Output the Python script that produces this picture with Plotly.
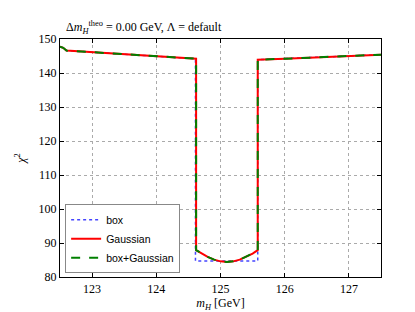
import plotly.graph_objects as go

# Data
x_box = [122.5, 122.55, 122.6, 123.0, 123.5, 124.0, 124.3, 124.61, 124.61, 124.9, 125.1, 125.3, 125.58, 125.58, 126.0, 126.5, 127.0, 127.5]
y_box = [147.7, 147.4, 146.6, 146.1, 145.5, 144.9, 144.6, 144.2, 84.7, 84.7, 84.6, 84.7, 84.7, 143.9, 144.2, 144.6, 145.0, 145.4]

x_gauss = [122.5, 122.55, 122.6, 123.0, 123.5, 124.0, 124.3, 124.62, 124.62, 124.7, 124.8, 124.9, 125.0, 125.1, 125.2, 125.3, 125.4, 125.5, 125.58, 125.58, 126.0, 126.5, 127.0, 127.5]
y_gauss = [147.7, 147.4, 146.6, 146.1, 145.5, 144.9, 144.6, 144.2, 87.9, 86.9, 85.9, 85.1, 84.6, 84.4, 84.6, 85.1, 85.9, 86.9, 87.9, 143.9, 144.2, 144.6, 145.0, 145.4]

x_boxgauss = x_gauss
y_boxgauss = y_gauss

x_ticks = [123, 124, 125, 126, 127]
y_ticks = [80, 90, 100, 110, 120, 130, 140, 150]

serif = "Liberation Serif"
sans = "Liberation Sans"

fig = go.Figure()
fig.add_trace(go.Scatter(x=x_box, y=y_box, mode="lines", name="box",
                         line=dict(color="#4444ff", width=1.5, dash="dot")))
fig.add_trace(go.Scatter(x=x_gauss, y=y_gauss, mode="lines", name="Gaussian",
                         line=dict(color="#ff0000", width=2)))
fig.add_trace(go.Scatter(x=x_boxgauss, y=y_boxgauss, mode="lines", name="box+Gaussian",
                         line=dict(color="#008000", width=2, dash="dash")))

axis_common = dict(showline=True, linecolor="black", linewidth=1.2, mirror="allticks",
                   ticks="inside", ticklen=4, tickcolor="black",
                   showgrid=True, gridcolor="#aaaaaa", griddash="dot", gridwidth=1,
                   zeroline=False, tickfont=dict(family=serif, size=12, color="black"))

fig.update_xaxes(range=[122.5, 127.5], tickvals=x_ticks, ticktext=[str(v) for v in x_ticks],
                 title=dict(text="<i>m</i><sub><i>H</i></sub> [GeV]", font=dict(family=serif, size=12, color="black"), standoff=4),
                 **axis_common)
fig.update_yaxes(range=[80, 150], tickvals=y_ticks, ticktext=[str(v) for v in y_ticks],
                 title=dict(text="<i>χ</i><sup>2</sup>", font=dict(family=serif, size=12, color="black"), standoff=10),
                 **axis_common)

fig.add_annotation(text="Δ<i>m</i><sub><i>H</i></sub><sup>theo</sup> = 0.00 GeV, Λ = default",
                   xref="paper", yref="paper", x=0.012, y=1.0, xanchor="left", yanchor="bottom",
                   yshift=1, showarrow=False, font=dict(family=serif, size=12, color="black"))

fig.update_layout(
    width=415, height=312,
    margin=dict(l=52, r=42, t=31, b=32),
    paper_bgcolor="white", plot_bgcolor="white",
    showlegend=True,
    legend=dict(x=0.016, y=0.016, xanchor="left", yanchor="bottom",
                bgcolor="white", bordercolor="#888888", borderwidth=1,
                font=dict(family=sans, size=10.5, color="black"),
                itemwidth=30, tracegroupgap=0),
)

fig.write_html("out.html")
